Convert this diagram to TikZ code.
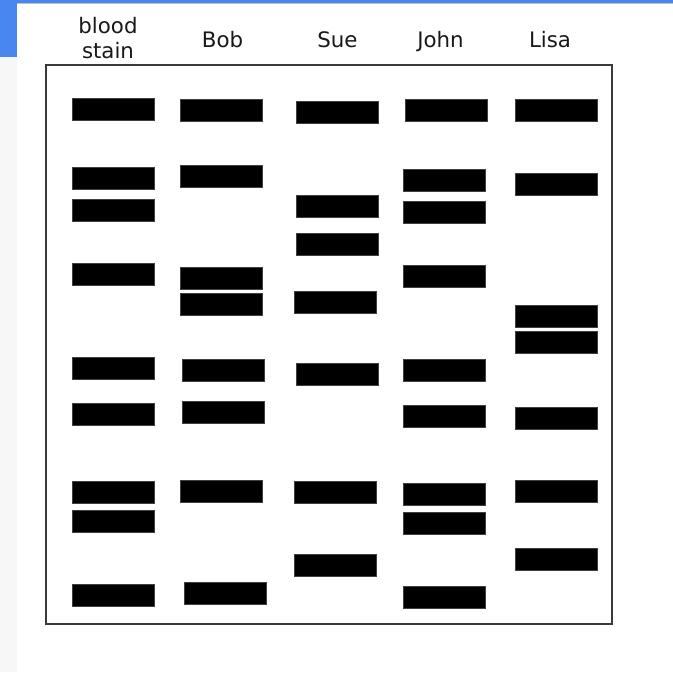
\documentclass[tikz,border=0pt]{standalone}
\usepackage{fontspec}
\setmainfont{DejaVu Sans}
\usepackage{xcolor}
\usepackage{tikz}
\usetikzlibrary{positioning}
\definecolor{slideblue}{HTML}{4A86F0}
\definecolor{frameline}{HTML}{3A3A3A}

\begin{document}
\begin{tikzpicture}[
    x=0.75pt, y=-0.75pt,
    band/.style={fill=black, draw=black!75, line width=0.3pt, inner sep=0pt, minimum width=61.5pt, minimum height=16.5pt},
    lane/.style={anchor=base, align=center, text=black!90, font=\fontsize{16}{18.75}\selectfont}
]
    \useasboundingbox (0,0) rectangle (673,672);
    \fill[white] (0,0) rectangle (673,672);
    % slide decoration
    \fill[black!3] (0,57) rectangle (17,672);
    \fill[slideblue] (0,0) rectangle (673,3);
    \fill[slideblue] (0,0) rectangle (17,57);
    \draw[black!25, line width=0.75pt] (17,3.5) -- (673,3.5);

    % gel frame
    \draw[frameline, line width=1.1pt] (46,65) rectangle (612,624);

    % lane labels
    \node[lane] (lblood) at (108,58) {blood\\stain};
    \node[lane] (lbob) at (222.5,47) {Bob};
    \node[lane] (lsue) at (337.5,47) {Sue};
    \node[lane] (ljohn) at (440.5,47) {John};
    \node[lane] (llisa) at (550,47) {Lisa};

    % bands, lane by lane
    \foreach \x/\y [count=\i] in {113/109, 113/178, 113/210, 113/274, 113/368, 113/414, 113/492.5, 113/521, 113/595}
        \node[band] (blood\i) at (\x,\y) {};
    \foreach \x/\y [count=\i] in {221/110, 221/176, 221/278, 221/304, 223/370, 223/412, 221/491, 225/593}
        \node[band] (bob\i) at (\x,\y) {};
    \foreach \x/\y [count=\i] in {337/112, 337/206, 337/244, 335/302, 337/374, 335/492.5, 335/565}
        \node[band] (sue\i) at (\x,\y) {};
    \foreach \x/\y [count=\i] in {446/110, 444/180, 444/212, 444/276, 444/370, 444/416.5, 444/494.5, 444/523, 444/597}
        \node[band] (john\i) at (\x,\y) {};
    \foreach \x/\y [count=\i] in {556/110, 556/184, 556/316.5, 556/342.5, 556/418.5, 556/491, 556/559}
        \node[band] (lisa\i) at (\x,\y) {};
\end{tikzpicture}
\end{document}
